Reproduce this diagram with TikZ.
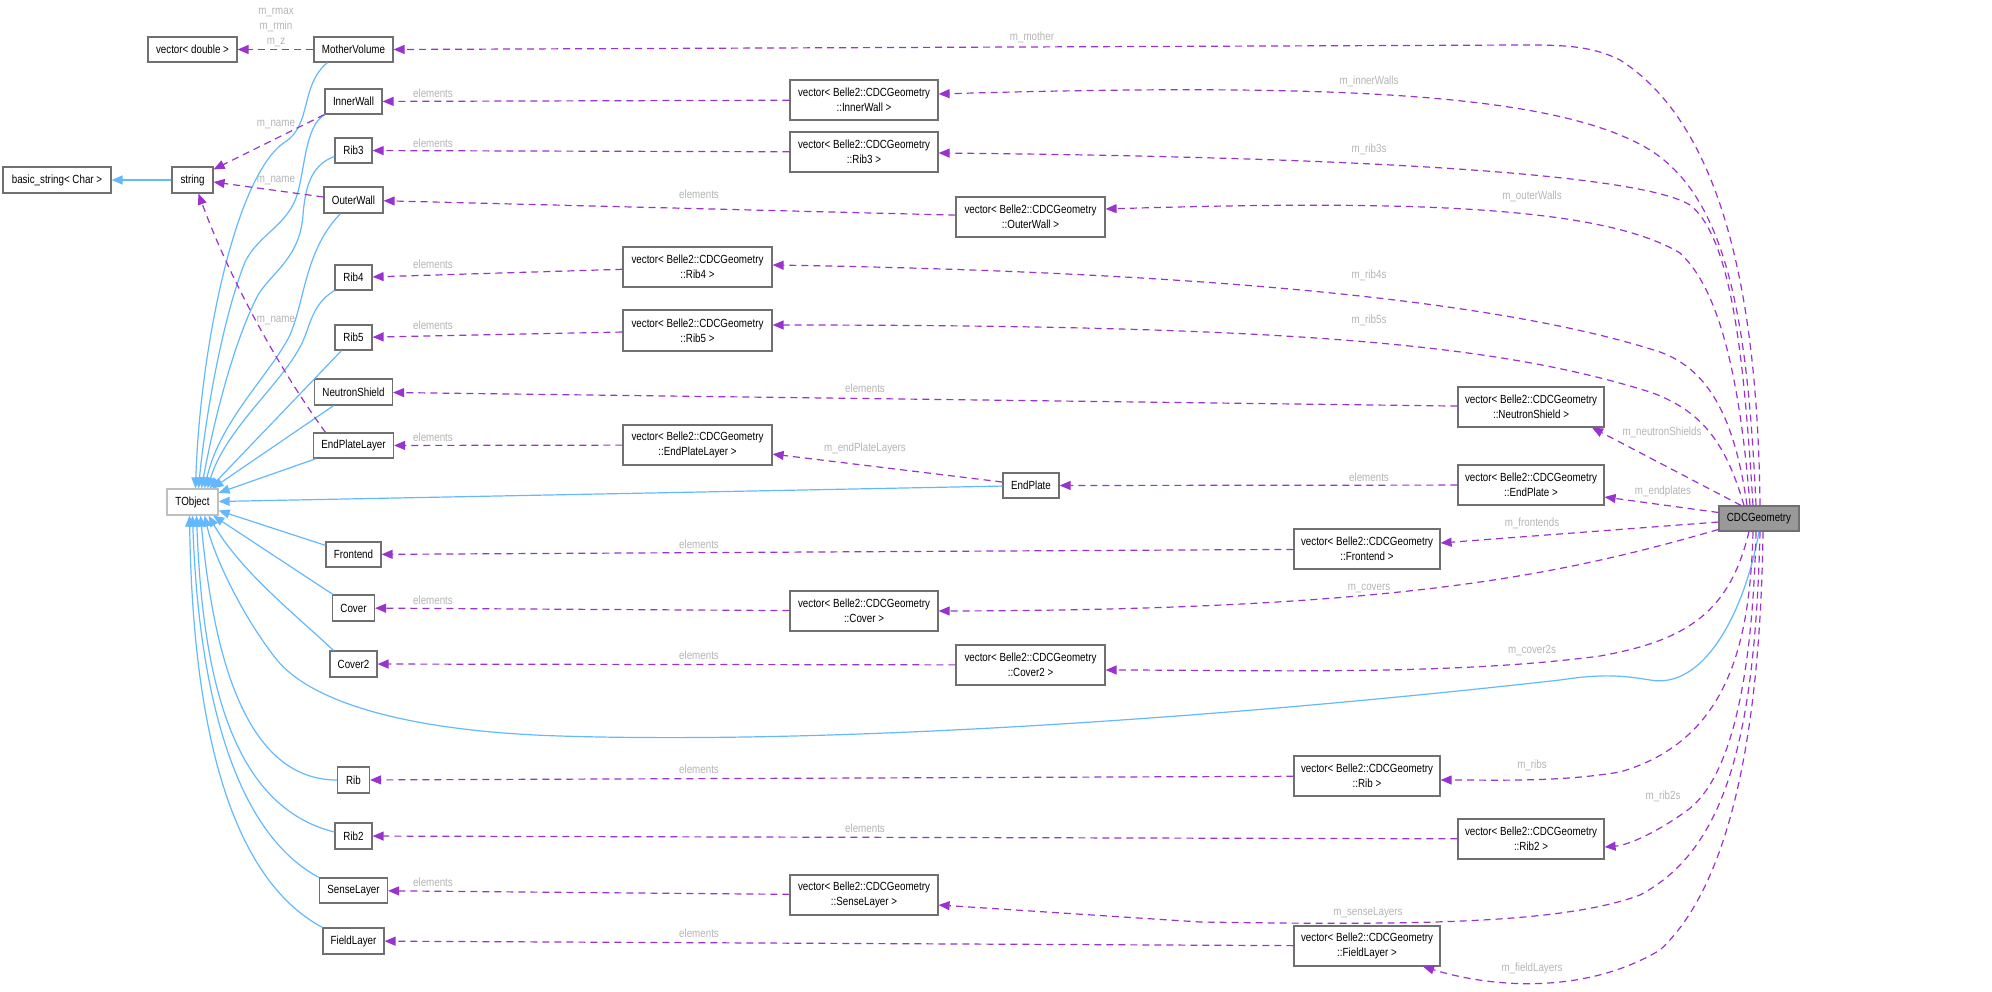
\documentclass[tikz,border=0pt]{standalone}
\usepackage{fontspec}
\setmainfont{Liberation Sans}[FakeStretch=0.83]
\usetikzlibrary{arrows.meta}
\definecolor{usecol}{HTML}{9A32CD}
\definecolor{inhcol}{HTML}{63B8FF}
\definecolor{boxcol}{HTML}{707070}
\definecolor{tobcol}{HTML}{BFBFBF}
\definecolor{cdcfill}{HTML}{999999}
\definecolor{lblcol}{HTML}{B4B4B4}
\begin{document}
\begin{tikzpicture}[x=1pt,y=-1pt,
  box/.style={draw=boxcol,line width=1.2pt,fill=white,inner sep=0pt,align=center,font=\fontsize{11.8}{15}\selectfont},
  vbox/.style={box,minimum width=148pt,minimum height=40pt},
  usage/.style={draw=usecol,line width=1.2pt,dash pattern=on 7pt off 5pt,-{Triangle[length=11pt,width=9pt]}},
  inh/.style={draw=inhcol,line width=1.2pt,-{Triangle[length=11pt,width=9pt]}},
  lbl/.style={text=lblcol,inner sep=0pt,font=\fontsize{11.8}{15}\selectfont,align=center}]
\useasboundingbox (0,0) rectangle (1992,991);

% ---------- nodes ----------
\node[box,minimum width=89pt,minimum height=25pt] (vd) at (192.5,49.5) {vector< double >};
\node[box,minimum width=79pt,minimum height=25pt] (mv) at (353.5,49.5) {MotherVolume};
\node[box,minimum width=57pt,minimum height=25pt] (iw) at (353.5,101.5) {InnerWall};
\node[box,minimum width=37pt,minimum height=25pt] (r3) at (353.5,150.5) {Rib3};
\node[box,minimum width=108pt,minimum height=26pt] (bs) at (57,180) {basic\_string< Char >};
\node[box,minimum width=41pt,minimum height=26pt] (str) at (192.5,180) {string};
\node[box,minimum width=59pt,minimum height=26pt] (ow) at (353.5,200) {OuterWall};
\node[box,minimum width=37pt,minimum height=25pt] (r4) at (353.5,277.5) {Rib4};
\node[box,minimum width=37pt,minimum height=25pt] (r5) at (353.5,337.5) {Rib5};
\node[box,minimum width=78pt,minimum height=26pt] (ns) at (353.5,392) {NeutronShield};
\node[box,minimum width=80pt,minimum height=25pt] (epl) at (353.5,445.5) {EndPlateLayer};
\node[box,draw=tobcol,minimum width=51pt,minimum height=26pt] (tob) at (192.5,502) {TObject};
\node[box,minimum width=55pt,minimum height=25pt] (fe) at (353.5,554.5) {Frontend};
\node[box,minimum width=42pt,minimum height=26pt] (cv) at (353.5,608) {Cover};
\node[box,minimum width=47pt,minimum height=26pt] (cv2) at (353.5,664) {Cover2};
\node[box,minimum width=32pt,minimum height=26pt] (rib) at (353.5,780) {Rib};
\node[box,minimum width=37pt,minimum height=26pt] (rib2) at (353.5,836) {Rib2};
\node[box,minimum width=68pt,minimum height=25pt] (sl) at (353.5,890.5) {SenseLayer};
\node[box,minimum width=61pt,minimum height=26pt] (fl) at (353.5,941) {FieldLayer};

\node[vbox] (viw) at (864,100) {vector< Belle2::CDCGeometry\\::InnerWall >};
\node[vbox] (vr3) at (864,152) {vector< Belle2::CDCGeometry\\::Rib3 >};
\node[vbox,minimum width=149pt] (vow) at (1030.5,217) {vector< Belle2::CDCGeometry\\::OuterWall >};
\node[vbox,minimum width=149pt] (vr4) at (697.5,267) {vector< Belle2::CDCGeometry\\::Rib4 >};
\node[vbox,minimum width=149pt,minimum height=41pt] (vr5) at (697.5,330.5) {vector< Belle2::CDCGeometry\\::Rib5 >};
\node[vbox,minimum width=146pt] (vns) at (1531,407) {vector< Belle2::CDCGeometry\\::NeutronShield >};
\node[vbox,minimum width=149pt] (vepl) at (697.5,445) {vector< Belle2::CDCGeometry\\::EndPlateLayer >};
\node[box,minimum width=56pt,minimum height=25pt] (ep) at (1031,485.5) {EndPlate};
\node[vbox,minimum width=146pt] (vep) at (1531,485) {vector< Belle2::CDCGeometry\\::EndPlate >};
\node[vbox,minimum width=146pt] (vfe) at (1367,549) {vector< Belle2::CDCGeometry\\::Frontend >};
\node[box,fill=cdcfill,minimum width=80pt,minimum height=25pt] (cdc) at (1759,518.5) {CDCGeometry};
\node[vbox] (vcv) at (864,611) {vector< Belle2::CDCGeometry\\::Cover >};
\node[vbox,minimum width=149pt] (vcv2) at (1030.5,665) {vector< Belle2::CDCGeometry\\::Cover2 >};
\node[vbox,minimum width=146pt] (vrib) at (1367,776) {vector< Belle2::CDCGeometry\\::Rib >};
\node[vbox,minimum width=146pt] (vrib2) at (1531,839) {vector< Belle2::CDCGeometry\\::Rib2 >};
\node[vbox] (vsl) at (864,895) {vector< Belle2::CDCGeometry\\::SenseLayer >};
\node[vbox,minimum width=146pt] (vfl) at (1367,946) {vector< Belle2::CDCGeometry\\::FieldLayer >};

% ---------- inheritance ----------
\draw[inh] (str) -- (bs);
\draw[inh] ([xshift=-26pt]mv.south) .. controls (300,85) and (312,125) .. (285,142) .. controls (235,175) and (200,350) .. ([xshift=3pt]tob.north);
\draw[inh] ([xshift=-28.5pt]iw.south) .. controls (305,125) and (305,170) .. (297,195) .. controls (288,225) and (258,235) .. (245,262) .. controls (222,320) and (205,420) .. ([xshift=6pt]tob.north);
\draw[inh] ([yshift=-6pt]r3.west) .. controls (310,165) and (305,190) .. (303,215) .. controls (300,258) and (272,272) .. (258,295) .. controls (232,345) and (212,430) .. ([xshift=9pt]tob.north);
\draw[inh] ([xshift=-13pt]ow.south) .. controls (305,250) and (305,300) .. (290,335) .. controls (270,375) and (220,420) .. ([xshift=12pt]tob.north);
\draw[inh] (r4.south west) .. controls (310,305) and (310,330) .. (300,347) .. controls (280,385) and (225,430) .. ([xshift=15pt]tob.north);
\draw[inh] ([xshift=-12pt]r5.south) -- ([xshift=17pt]tob.north);
\draw[inh] (ns) -- (tob);
\draw[inh] (epl) -- (tob);
\draw[inh] (ep) -- (tob);
\draw[inh] (fe) -- (tob);
\draw[inh] (cv) -- (tob);
\draw[inh] ([xshift=-20pt]cv2.north) .. controls (290,610) and (240,570) .. ([xshift=16pt]tob.south);
\draw[inh] (rib.west) .. controls (240,780) and (212,640) .. ([xshift=8pt]tob.south);
\draw[inh] ([yshift=4pt]rib2.west) .. controls (225,805) and (202,660) .. ([xshift=4pt]tob.south);
\draw[inh] (sl.north west) .. controls (230,830) and (198,680) .. (tob.south);
\draw[inh] (fl.north west) .. controls (215,870) and (192,680) .. ([xshift=-3pt]tob.south);
\draw[inh] (cdc.south) .. controls (1745,610) and (1705,690) .. (1650,680) .. controls (1620,675) and (1600,674) .. (1560,680) .. controls (1250,715) and (850,745) .. (560,736) .. controls (400,731) and (310,700) .. (277,660) .. controls (245,620) and (215,560) .. ([xshift=12pt]tob.south);

% ---------- usage (members) ----------
\draw[usage] (mv) -- (vd);
\draw[usage] (iw.south west) -- ([yshift=-3pt]str.north east);
\draw[usage] ([yshift=3pt]ow.west) -- ([yshift=-2pt]str.east);
\draw[usage] ([xshift=-28pt]epl.north) .. controls (280,370) and (230,280) .. ([xshift=6pt]str.south);

\draw[usage] (viw) -- (iw);
\draw[usage] (vr3) -- (r3);
\draw[usage] (vow) -- (ow);
\draw[usage] (vr4) -- (r4);
\draw[usage] (vr5) -- (r5);
\draw[usage] (vns) -- (ns);
\draw[usage] (vepl) -- (epl);
\draw[usage] (ep) -- (vepl);
\draw[usage] (vep) -- (ep);
\draw[usage] (vfe) -- (fe);
\draw[usage] (vcv) -- (cv);
\draw[usage] (vcv2) -- (cv2);
\draw[usage] (vrib) -- (rib);
\draw[usage] (vrib2) -- (rib2);
\draw[usage] (vsl) -- (sl);
\draw[usage] (vfl) -- (fl);

\draw[usage] ([xshift=1pt]cdc.north) .. controls (1758,320) and (1730,130) .. (1620,60) .. controls (1590,45) and (1560,45) .. (1520,45) -- (mv.east);
\draw[usage] ([xshift=-3pt]cdc.north) .. controls (1748,330) and (1730,200) .. (1650,150) .. controls (1560,95) and (1350,82) .. ([yshift=6pt]viw.east);
\draw[usage] ([xshift=-6pt]cdc.north) .. controls (1745,380) and (1735,240) .. (1690,205) .. controls (1650,180) and (1450,158) .. ([yshift=-1pt]vr3.east);
\draw[usage] ([xshift=-9pt]cdc.north) .. controls (1740,380) and (1720,290) .. (1680,253) .. controls (1600,205) and (1400,200) .. ([yshift=8pt]vow.east);
\draw[usage] ([xshift=-12pt]cdc.north) .. controls (1735,420) and (1710,370) .. (1660,352) .. controls (1500,300) and (1200,272) .. ([yshift=2pt]vr4.east);
\draw[usage] ([xshift=-15pt]cdc.north) .. controls (1725,440) and (1700,410) .. (1650,392) .. controls (1500,345) and (1300,325) .. ([yshift=5.5pt]vr5.east);
\draw[usage] ([xshift=-18pt]cdc.north) -- ([xshift=61pt]vns.south);
\draw[usage] ([yshift=6pt]cdc.west) -- ([yshift=-12pt]vep.east);
\draw[usage] ([yshift=-3.5pt]cdc.west) -- ([yshift=6pt]vfe.east);
\draw[usage] ([yshift=-11pt]cdc.west) .. controls (1560,575) and (1400,610) .. (vcv.east);
\draw[usage] ([xshift=-10pt]cdc.south) .. controls (1730,610) and (1690,640) .. (1600,656) .. controls (1450,676) and (1250,670) .. ([yshift=-5pt]vcv2.east);
\draw[usage] ([xshift=-6pt]cdc.south) .. controls (1750,640) and (1730,740) .. (1620,772) .. controls (1560,782) and (1500,780) .. ([yshift=-4pt]vrib.east);
\draw[usage] ([xshift=-3pt]cdc.south) .. controls (1752,700) and (1725,785) .. (1685,812) .. controls (1660,830) and (1630,845) .. ([yshift=-8pt]vrib2.east);
\draw[usage] ([xshift=1pt]cdc.south) .. controls (1755,740) and (1725,850) .. (1640,895) .. controls (1560,925) and (1400,925) .. (1200,922) -- ([yshift=-10pt]vsl.east);
\draw[usage] ([xshift=4pt]cdc.south) .. controls (1760,750) and (1725,890) .. (1660,950) .. controls (1590,992) and (1500,990) .. ([xshift=56pt]vfl.south);

% ---------- labels ----------
\node[lbl] (l01) at (276,27) {m\_rmax\\m\_rmin\\m\_z};
\node[lbl] (l02) at (276,124) {m\_name};
\node[lbl] (l03) at (276,180) {m\_name};
\node[lbl] (l04) at (276,320) {m\_name};
\node[lbl] (l05) at (433,93) {elements};
\node[lbl] (l06) at (433,143) {elements};
\node[lbl] (l07) at (699,194) {elements};
\node[lbl] (l08) at (433,264) {elements};
\node[lbl] (l09) at (433,325) {elements};
\node[lbl] (l10) at (865,388) {elements};
\node[lbl] (l11) at (433,437) {elements};
\node[lbl] (l12) at (1369,477) {elements};
\node[lbl] (l13) at (699,544) {elements};
\node[lbl] (l14) at (433,600) {elements};
\node[lbl] (l15) at (699,655) {elements};
\node[lbl] (l16) at (699,769) {elements};
\node[lbl] (l17) at (865,828) {elements};
\node[lbl] (l18) at (433,882) {elements};
\node[lbl] (l19) at (699,933) {elements};
\node[lbl] (l20) at (1032,37) {m\_mother};
\node[lbl] (l21) at (1369,81) {m\_innerWalls};
\node[lbl] (l22) at (1369,149) {m\_rib3s};
\node[lbl] (l23) at (1532,196) {m\_outerWalls};
\node[lbl] (l24) at (1369,275) {m\_rib4s};
\node[lbl] (l25) at (1369,320) {m\_rib5s};
\node[lbl] (l26) at (1662,432) {m\_neutronShields};
\node[lbl] (l27) at (865,448) {m\_endPlateLayers};
\node[lbl] (l28) at (1663,491) {m\_endplates};
\node[lbl] (l29) at (1532,523) {m\_frontends};
\node[lbl] (l30) at (1369,588) {m\_covers};
\node[lbl] (l31) at (1532,651) {m\_cover2s};
\node[lbl] (l32) at (1532,765) {m\_ribs};
\node[lbl] (l33) at (1663,796) {m\_rib2s};
\node[lbl] (l34) at (1368,913) {m\_senseLayers};
\node[lbl] (l35) at (1532,968) {m\_fieldLayers};
\end{tikzpicture}
\end{document}
